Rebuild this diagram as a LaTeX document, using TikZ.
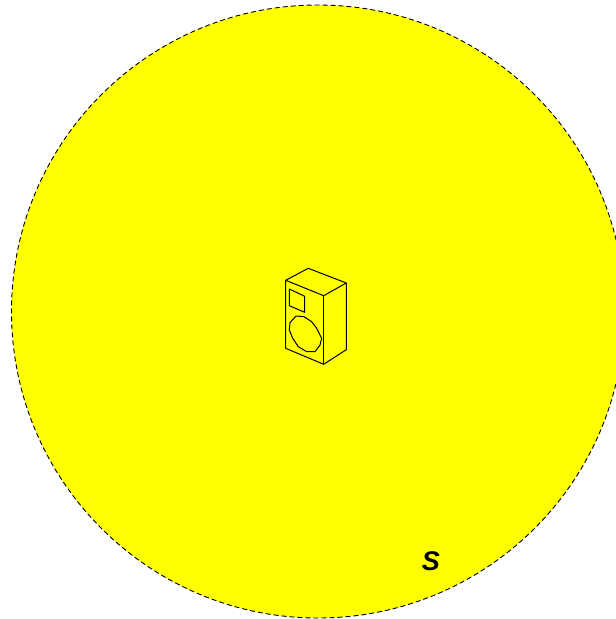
\documentclass[tikz,border=0pt]{standalone}
\usepackage{fontspec}
\setmainfont{Liberation Sans}
\definecolor{zoneyellow}{RGB}{255,255,0}
\begin{document}
\begin{tikzpicture}[
        x=1pt, y=-1pt,
        zone/.style={draw=black, fill=zoneyellow, line width=0.9pt, dash pattern=on 5pt off 3pt},
        cabinet/.style={draw=black, line width=1pt, line join=round},
        tag/.style={font=\bfseries\itshape\fontsize{27}{27}\selectfont, inner sep=0pt}
    ]
        \useasboundingbox (0,0) rectangle (616,619);

        % Zone
        \node (zone) [zone, circle, minimum size=613pt, inner sep=0pt] at (318,311.5) {};
        \node (label) [tag] at (431,561) {S};

        % Cabinet corners
        \coordinate (back) at (308.3,268.3);
        \coordinate (topleft) at (285.7,280.3);
        \coordinate (topfront) at (323.7,295.7);
        \coordinate (topright) at (346.3,283);
        \coordinate (botleft) at (285.7,348.3);
        \coordinate (botfront) at (323.7,364.3);
        \coordinate (botright) at (346.3,349.7);

        % Cabinet
        \draw [cabinet] (topleft) -- (back) -- (topright) -- (topfront) -- cycle;
        \draw [cabinet] (topleft) -- (botleft) -- (botfront) -- (botright) -- (topright);
        \draw [cabinet] (topfront) -- (botfront);

        % Tweeter and woofer
        \draw [cabinet] (289.3,289) -- (304.7,296.3) -- (304.7,312.3) -- (289.3,305.7) -- cycle;
        \draw [cabinet] (290,322.7) -- (296,316) -- (304,316.7) -- (311.7,321.7) -- (316.7,328.3) -- (321.7,338.3) -- (320,345) -- (315,351.7) -- (306.7,351.7) -- (298.3,346.7) -- (292.7,338.3) -- (289.3,330) -- cycle;
    \end{tikzpicture}
\end{document}
